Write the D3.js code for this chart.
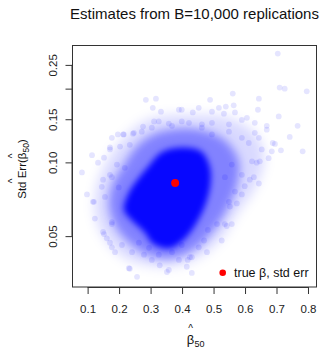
<!DOCTYPE html>
<html>
<head>
<meta charset="utf-8">
<script src="https://cdn.jsdelivr.net/npm/d3@7"></script>
<style>
  body { margin: 0; background: #fff; }
  svg { display: block; font-family: 'Liberation Sans', Arial, sans-serif; }
</style>
</head>
<body>
<div id="chart"></div>
<script>
// bootstrap estimates (beta_50, std err): the sparse fringe
const fringeBeta = [0.285,0.317,0.307,0.333,0.390,0.399,0.434,0.276,0.311,0.326,0.358,0.368,0.399,0.422,
  0.704,0.710,0.726,0.796,0.561,0.489,0.644,0.641,0.707,0.767,0.453,0.517,0.539,0.564,0.495,0.533,0.568,0.590,0.606,0.631,0.669,0.463,0.495,0.549,
  0.177,0.196,0.213,0.244,0.114,0.171,0.203,0.783,0.742,
  0.714,0.695,0.685,0.675,0.647,0.644,0.628,0.599,0.574,0.590,0.669,0.644,0.612,0.653,
  0.082,0.098,0.123,0.117,0.149,0.171,0.177,0.149,0.171,0.133,0.231,0.257,0.352,0.479,0.418,0.688,0.637,0.615,0.552,0.542,0.526,0.482,
  0.152,0.161,0.177,0.187,0.234,0.329,0.358,0.390,0.415,0.425,0.431,0.241,0.279,0.304,0.326,
  0.431,0.453,0.470,0.511,0.536,0.558,
  0.215,0.247,0.152,0.171,0.234,0.120,0.145,0.177,0.155,0.199,0.218,0.193,0.272,0.304,
  0.463,0.495,0.549,0.590,0.631,0.622,0.558,0.590,0.568,0.549,0.536,
  0.209,0.263,0.295,0.368,0.399,0.177];
const fringeSE = [0.180,0.182,0.167,0.161,0.164,0.164,0.160,0.140,0.147,0.147,0.144,0.141,0.147,0.145,
  0.278,0.202,0.200,0.195,0.191,0.180,0.182,0.164,0.154,0.141,0.167,0.167,0.169,0.171,0.161,0.158,0.160,0.149,0.152,0.145,0.141,0.143,0.145,0.143,
  0.126,0.130,0.130,0.131,0.107,0.115,0.116,0.111,0.127,
  0.112,0.119,0.111,0.104,0.101,0.082,0.087,0.080,0.068,0.074,0.136,0.126,0.120,0.113,
  0.091,0.074,0.059,0.069,0.052,0.047,0.057,0.085,0.089,0.0997,0.037,0.0341,0.0357,0.043,0.040,0.120,0.0997,0.085,0.066,0.055,0.048,0.053,
  0.051,0.049,0.045,0.043,0.0368,0.038,0.0364,0.040,0.0375,0.041,0.0354,0.043,0.042,0.040,0.042,
  0.041,0.045,0.048,0.056,0.056,0.056,
  0.130,0.132,0.1045,0.113,0.118,0.069,0.0795,0.087,0.0723,0.079,0.095,0.098,0.1335,0.1386,
  0.1386,0.130,0.1335,0.126,0.132,0.101,0.098,0.089,0.076,0.069,0.087,
  0.046,0.047,0.0448,0.043,0.046,0.056];

// density outlines of the crowded middle (light, medium, saturated)
const lightBeta = [0.298,0.441,0.560,0.640,0.660,0.630,0.575,0.530,0.465,0.387,0.295,0.215,0.155,0.125,0.130,0.160,0.222];
const lightSE   = [0.150,0.156,0.150,0.127,0.1026,0.078,0.062,0.050,0.042,0.038,0.038,0.041,0.049,0.061,0.080,0.100,0.128];
const midBeta = [0.322,0.436,0.530,0.580,0.575,0.545,0.495,0.436,0.363,0.290,0.232,0.188,0.168,0.180,0.214,0.258];
const midSE   = [0.132,0.137,0.125,0.102,0.081,0.065,0.052,0.044,0.0405,0.042,0.047,0.055,0.067,0.082,0.097,0.117];
const coreBeta = [0.335,0.395,0.460,0.488,0.490,0.472,0.440,0.403,0.357,0.308,0.280,0.240,0.215,0.228,0.252,0.292];
const coreSE   = [0.110,0.115,0.111,0.096,0.081,0.066,0.055,0.048,0.0445,0.0465,0.052,0.058,0.064,0.074,0.083,0.096];

const trueBeta = 0.378;
const trueSE = 0.0824;

const xTicks = [0.1, 0.2, 0.3, 0.4, 0.5, 0.6, 0.7, 0.8];
const yTicks = [0.05, 0.10, 0.15, 0.20, 0.25];
const yTickLabels = ['0.05', '0.10', '0.15', '', '0.25'];

const width = 322;
const height = 350;
const plot = { left: 72.5, right: 316.5, top: 45.5, bottom: 287 };

const x = d3.scaleLinear().domain([0.052, 0.827]).range([plot.left, plot.right]);
const y = d3.scaleLog().domain([0.031, 0.30]).range([plot.bottom, plot.top]);

const svg = d3.select('#chart').append('svg')
  .attr('width', width)
  .attr('height', height);

const defs = svg.append('defs');
defs.append('clipPath').attr('id', 'plot-clip')
  .append('rect')
  .attr('x', plot.left).attr('y', plot.top)
  .attr('width', plot.right - plot.left).attr('height', plot.bottom - plot.top);
[['blur-light', 6], ['blur-mid', 5], ['blur-core', 3]].forEach(([id, sd]) => {
  defs.append('filter').attr('id', id)
    .attr('x', '-30%').attr('y', '-30%').attr('width', '160%').attr('height', '160%')
    .append('feGaussianBlur').attr('stdDeviation', sd);
});

const cloud = svg.append('g').attr('clip-path', 'url(#plot-clip)');

const outline = d3.line()
  .x(d => x(d[0]))
  .y(d => y(d[1]))
  .curve(d3.curveCatmullRomClosed);

const levels = [
  { b: lightBeta, s: lightSE, opacity: 0.15, filter: 'blur-light' },
  { b: midBeta, s: midSE, opacity: 0.4, filter: 'blur-mid' },
  { b: coreBeta, s: coreSE, opacity: 0.95, filter: 'blur-core' }
];
levels.forEach(l => {
  cloud.append('path')
    .datum(d3.zip(l.b, l.s))
    .attr('d', outline)
    .attr('fill', '#0000ff')
    .attr('fill-opacity', l.opacity)
    .attr('filter', `url(#${l.filter})`);
});

cloud.selectAll('.rep')
  .data(d3.zip(fringeBeta, fringeSE)).enter()
  .append('circle')
  .attr('class', 'rep')
  .attr('cx', d => x(d[0]))
  .attr('cy', d => y(d[1]))
  .attr('r', 2.9)
  .attr('fill', '#0000ff')
  .attr('fill-opacity', 0.1);

// true value
svg.append('circle')
  .attr('cx', x(trueBeta))
  .attr('cy', y(trueSE))
  .attr('r', 4)
  .attr('fill', '#ff0000');

// box
svg.append('rect')
  .attr('x', plot.left).attr('y', plot.top)
  .attr('width', plot.right - plot.left).attr('height', plot.bottom - plot.top)
  .attr('fill', 'none')
  .attr('stroke', '#333')
  .attr('stroke-width', 1);

// x axis
const xAxis = svg.append('g')
  .attr('transform', `translate(0,${plot.bottom})`)
  .call(d3.axisBottom(x).tickValues(xTicks).tickSize(7).tickPadding(11).tickFormat(d3.format('.1f')));
xAxis.select('.domain')
  .attr('d', `M${x(0.1)},0.5H${x(0.8)}`)
  .attr('stroke', '#333');
xAxis.selectAll('.tick line').attr('stroke', '#333');
xAxis.selectAll('.tick text')
  .attr('fill', '#222')
  .style('font-size', '11.5px')
  .style('font-family', "'Liberation Sans', Arial, sans-serif");

// y axis
const yAxis = svg.append('g')
  .attr('transform', `translate(${plot.left},0)`)
  .call(d3.axisLeft(y).tickValues(yTicks).tickSize(7).tickPadding(0).tickFormat((d, i) => yTickLabels[i]));
yAxis.select('.domain')
  .attr('d', `M-0.5,${y(0.05)}V${y(0.25)}`)
  .attr('stroke', '#333');
yAxis.selectAll('.tick line').attr('stroke', '#333');
yAxis.selectAll('.tick text')
  .attr('fill', '#222')
  .attr('x', 0)
  .attr('dy', 0)
  .attr('text-anchor', 'middle')
  .attr('transform', 'translate(-16,0) rotate(-90)')
  .style('font-size', '11.5px')
  .style('font-family', "'Liberation Sans', Arial, sans-serif");

// title
svg.append('text')
  .attr('x', (plot.left + plot.right) / 2)
  .attr('y', 19)
  .attr('text-anchor', 'middle')
  .attr('fill', '#111')
  .style('font-size', '15px')
  .text('Estimates from B=10,000 replications');

// x label: beta-hat sub 50
const xLab = svg.append('g')
  .attr('transform', `translate(${(plot.left + plot.right) / 2 - 4},344)`);
xLab.append('text')
  .attr('text-anchor', 'middle')
  .attr('fill', '#111')
  .style('font-size', '13px')
  .text('β');
xLab.append('text')
  .attr('x', 0).attr('y', -12)
  .attr('text-anchor', 'middle')
  .attr('fill', '#111')
  .style('font-size', '10px')
  .text('^');
xLab.append('text')
  .attr('x', 4).attr('y', 3)
  .attr('fill', '#111')
  .style('font-size', '9px')
  .text('50');

// y label: hat(Std Err) ( beta-hat sub 50 ), laid out piece by piece
const yLabGroup = svg.append('g').attr('transform', 'translate(26,169) rotate(-90)');
const yLab = yLabGroup.append('g');
const pieces = [
  { t: 'Std Err', size: 11.5, dy: 0, hat: true },
  { t: '(', size: 11.5, dy: 0 },
  { t: 'β', size: 11.5, dy: 0, hat: true },
  { t: '50', size: 8.5, dy: 3 },
  { t: ')', size: 11.5, dy: 0 }
];
let cursor = 0;
pieces.forEach(p => {
  const el = yLab.append('text')
    .attr('x', cursor).attr('y', p.dy)
    .attr('fill', '#111')
    .style('font-size', `${p.size}px`)
    .text(p.t);
  const w = el.node().getComputedTextLength();
  if (p.hat) {
    yLab.append('text')
      .attr('x', cursor + w / 2).attr('y', -10)
      .attr('text-anchor', 'middle')
      .attr('fill', '#111')
      .style('font-size', '10px')
      .text('^');
  }
  cursor += w;
});
yLab.attr('transform', `translate(${-cursor / 2},0)`);

// legend
svg.append('circle')
  .attr('cx', 222.7).attr('cy', 272.7)
  .attr('r', 3.3)
  .attr('fill', '#ff0000');
svg.append('text')
  .attr('x', 234).attr('y', 277)
  .attr('fill', '#111')
  .style('font-size', '12.5px')
  .text('true β, std err');
</script>
</body>
</html>
